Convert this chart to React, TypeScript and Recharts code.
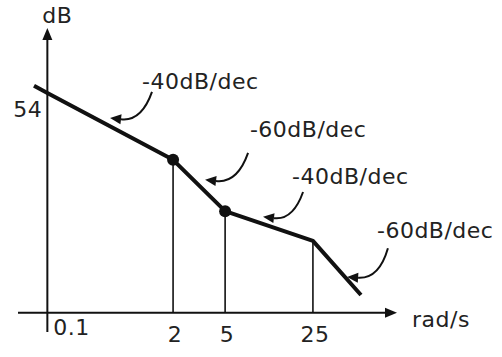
import { LineChart, Line, XAxis, YAxis, ReferenceLine, ReferenceDot } from 'recharts';

// Asymptotic Bode magnitude sketch (not to scale): positions along the ω axis are sketch units
const freqLabels = ['0.1', '2', '5', '25'];
const freqPos = [0, 47.1, 66.6, 99.5];

const curvePos = [-5, 0, 47.1, 66.6, 99.5, 117.5];
const curveDb = [55.8, 54, 37.6, 25, 17.7, 4.4];
const cornerIdx = [2, 3];
const dropIdx = [2, 3, 4];
const dbTick = 54;

const slopeText = ['-40dB/dec', '-60dB/dec', '-40dB/dec', '-60dB/dec'];
const slopeTextPos = [[35.5, 55.0], [75.9, 43.2], [91.7, 31.7], [123.5, 18.4]];
const slopeArrowFrom = [[39.2, 54.3], [75.2, 39.3], [95.8, 29.7], [127.6, 15.9]];
const slopeArrowTo = [[23.5, 47.9], [59.1, 32.7], [80.8, 23.6], [112.3, 8.8]];

const xDomain = [-11, 131];
const yDomain = [-4.7, 70];

const data = curvePos.map((x, i) => ({ x, db: curveDb[i] }));

const INK = '#111';
const FONT = '"DejaVu Sans", Verdana, sans-serif';

const arrowHead = (x2: number, y2: number, fromX: number, fromY: number, len: number, half: number) => {
  const a = Math.atan2(y2 - fromY, x2 - fromX);
  const bx = x2 - len * Math.cos(a);
  const by = y2 - len * Math.sin(a);
  const px = -Math.sin(a) * half;
  const py = Math.cos(a) * half;
  return { bx, by, pts: `${x2},${y2} ${bx + px},${by + py} ${bx - px},${by - py}` };
};

const AxisArrow = (props: any) => {
  const { x1, y1, x2, y2 } = props;
  const h = arrowHead(x2, y2, x1, y1, 12, 5);
  return (
    <g>
      <line x1={x1} y1={y1} x2={h.bx} y2={h.by} stroke={INK} strokeWidth={2} />
      <polygon points={h.pts} fill={INK} />
    </g>
  );
};

const CurvedArrow = (props: any) => {
  const { x1, y1, x2, y2 } = props;
  const dx = x2 - x1;
  const dy = y2 - y1;
  const cx = (x1 + x2) / 2 + 0.4 * dy;
  const cy = (y1 + y2) / 2 - 0.4 * dx;
  const h = arrowHead(x2, y2, cx, cy, 11, 5);
  return (
    <g>
      <path d={`M${x1},${y1} Q${cx},${cy} ${h.bx},${h.by}`} fill="none" stroke={INK} strokeWidth={2} />
      <polygon points={h.pts} fill={INK} />
    </g>
  );
};

const textShape = (text: string, dx: number, dy: number, anchor: 'start' | 'middle' | 'end') => (p: any) => (
  <text
    x={p.cx + dx}
    y={p.cy + dy}
    textAnchor={anchor}
    fontFamily={FONT}
    fontSize={22}
    letterSpacing={0.5}
    fill="#222"
  >
    {text}
  </text>
);

const cornerDot = (p: any) =>
  cornerIdx.includes(p.index) ? (
    <circle key={`dot-${p.index}`} cx={p.cx} cy={p.cy} r={6} fill={INK} />
  ) : (
    <g key={`dot-${p.index}`} />
  );

export default function App() {
  return (
    <div style={{ position: 'absolute', left: 0, top: 0, width: 502, height: 357, background: '#fff' }}>
      <LineChart width={502} height={357} data={data} margin={{ top: 28, right: 105, bottom: 25, left: 18 }}>
        <XAxis type="number" dataKey="x" domain={xDomain} allowDataOverflow hide />
        <YAxis type="number" dataKey="db" domain={yDomain} allowDataOverflow hide />

        {/* axes with arrowheads */}
        <ReferenceLine
          segment={[{ x: xDomain[0], y: 0 }, { x: xDomain[1], y: 0 }]}
          ifOverflow="visible"
          shape={AxisArrow}
        />
        <ReferenceLine
          segment={[{ x: 0, y: yDomain[0] }, { x: 0, y: yDomain[1] }]}
          ifOverflow="visible"
          shape={AxisArrow}
        />

        {/* drop lines at the break frequencies */}
        {dropIdx.map((k) => (
          <ReferenceLine
            key={`drop-${k}`}
            segment={[{ x: curvePos[k], y: 0 }, { x: curvePos[k], y: curveDb[k] }]}
            ifOverflow="visible"
            stroke={INK}
            strokeWidth={1.6}
          />
        ))}

        <Line
          dataKey="db"
          type="linear"
          stroke={INK}
          strokeWidth={4}
          strokeLinejoin="round"
          dot={cornerDot}
          activeDot={false}
          isAnimationActive={false}
        />

        {/* slope annotations */}
        {slopeText.map((t, i) => (
          <ReferenceLine
            key={`arr-${i}`}
            segment={[
              { x: slopeArrowFrom[i][0], y: slopeArrowFrom[i][1] },
              { x: slopeArrowTo[i][0], y: slopeArrowTo[i][1] },
            ]}
            ifOverflow="visible"
            shape={CurvedArrow}
          />
        ))}
        {slopeText.map((t, i) => (
          <ReferenceDot
            key={`txt-${i}`}
            x={slopeTextPos[i][0]}
            y={slopeTextPos[i][1]}
            ifOverflow="visible"
            shape={textShape(t, 0, 0, 'start')}
          />
        ))}

        {/* tick labels */}
        {freqLabels.map((l, i) => (
          <ReferenceDot
            key={`tick-${i}`}
            x={freqPos[i]}
            y={0}
            ifOverflow="visible"
            shape={i === 0 ? textShape(l, 6, 22, 'start') : textShape(l, 2, 29, 'middle')}
          />
        ))}
        <ReferenceDot x={0} y={dbTick} ifOverflow="visible" shape={textShape(String(dbTick), -5, 24, 'end')} />

        {/* axis titles */}
        <ReferenceDot x={0} y={yDomain[1]} ifOverflow="visible" shape={textShape('dB', -5, -5, 'start')} />
        <ReferenceDot x={xDomain[1]} y={0} ifOverflow="visible" shape={textShape('rad/s', 15, 14, 'start')} />
      </LineChart>
    </div>
  );
}
